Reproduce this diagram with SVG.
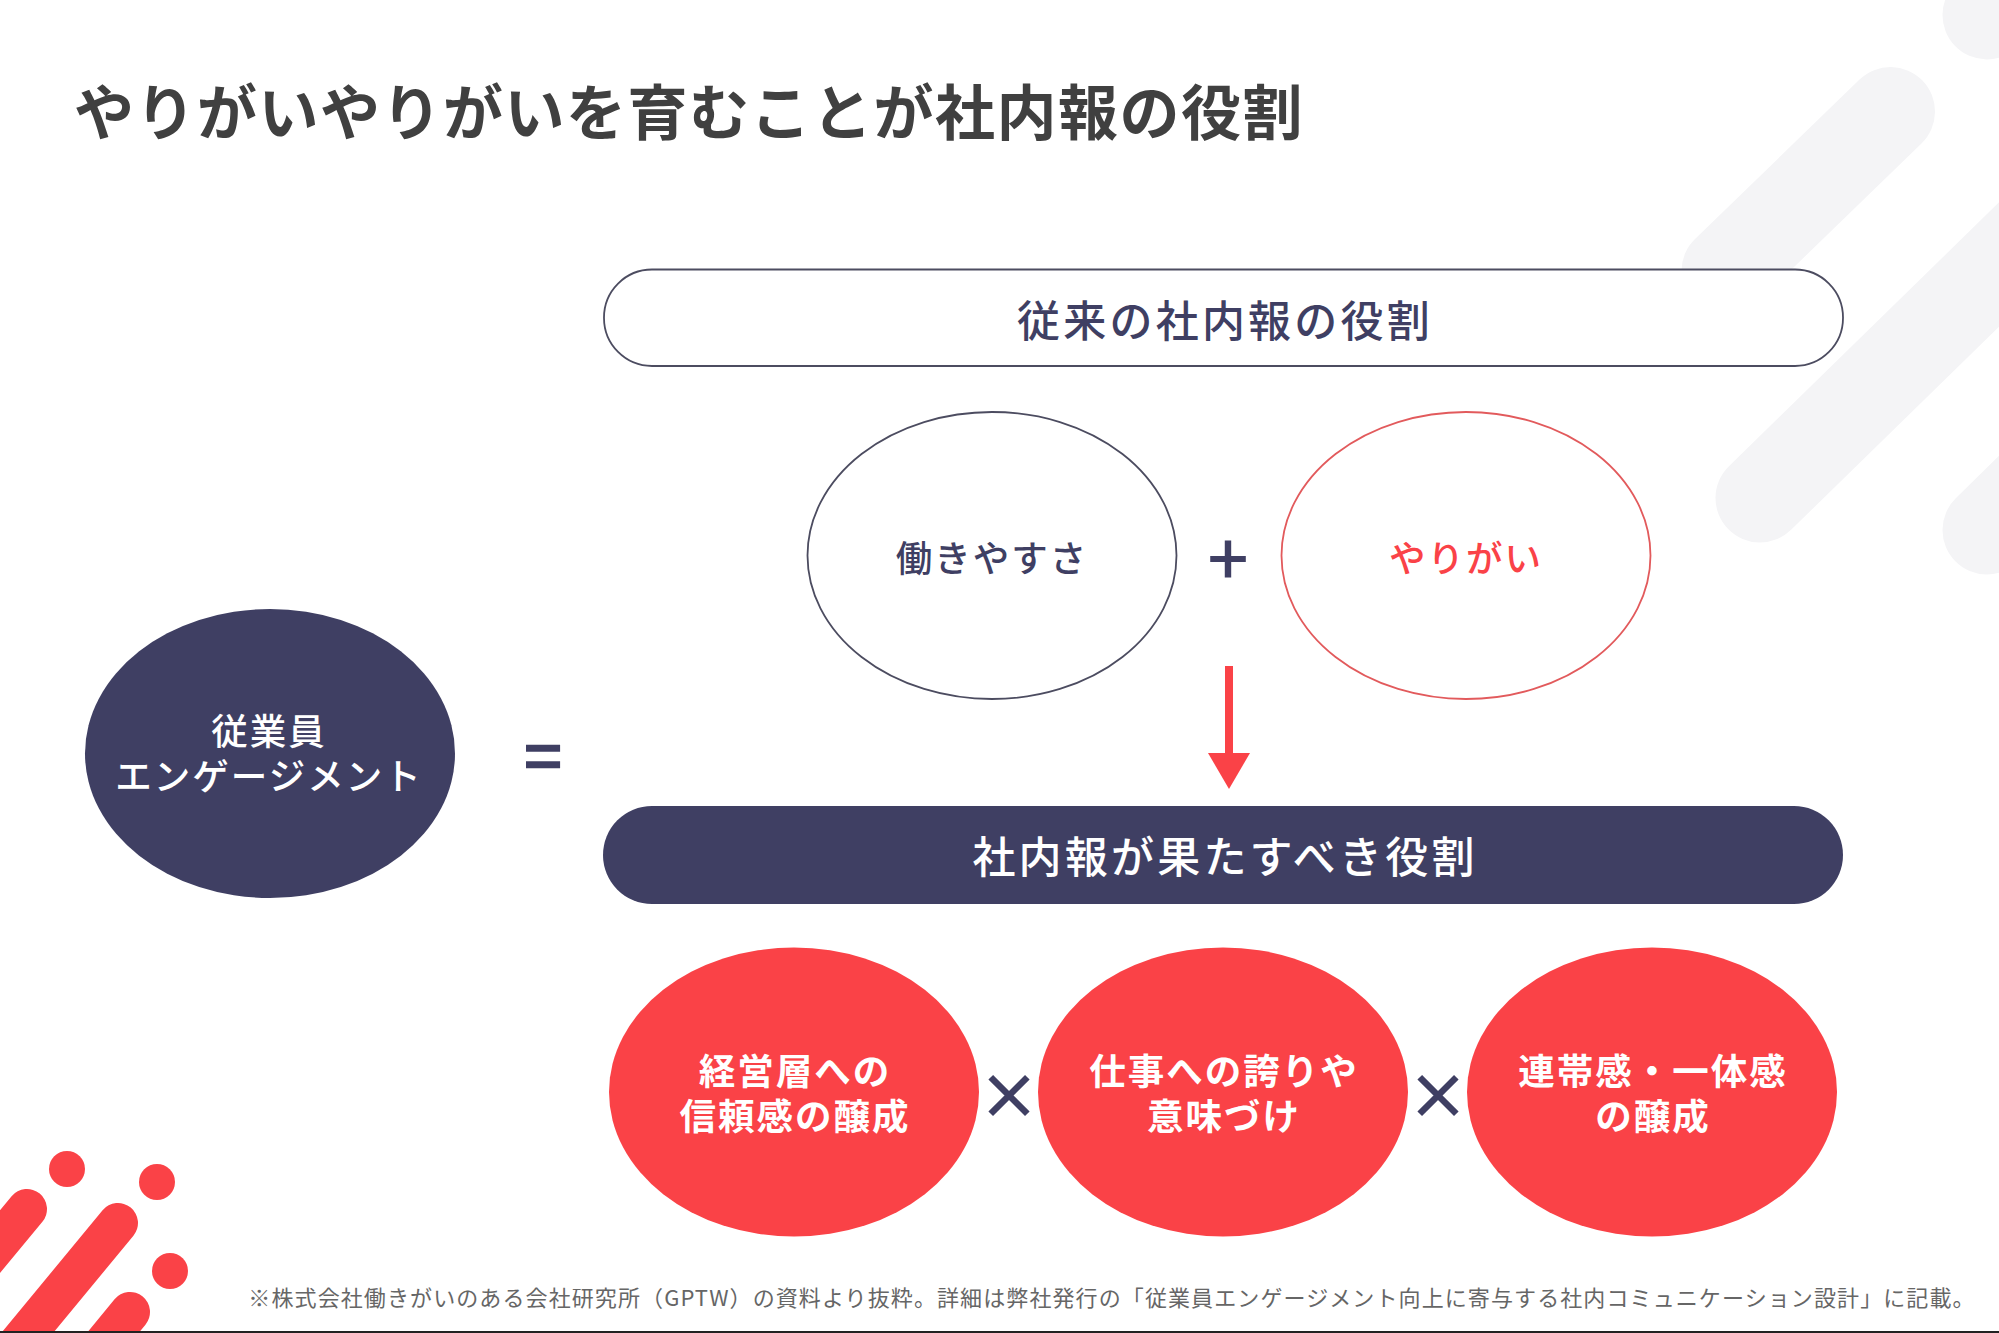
<svg xmlns="http://www.w3.org/2000/svg" width="1999" height="1333" viewBox="0 0 1999 1333">
<style>
text{font-family:"Noto Sans CJK JP","Noto Sans",sans-serif;text-anchor:middle}
.bg{stroke:#f4f4f6;stroke-width:89;stroke-linecap:round;fill:none}
.rb{stroke:#fa4247;stroke-width:40;stroke-linecap:round;fill:none}
.navy{fill:#3f3f63}.red{fill:#fa4247}
.m{font-size:36.500px;letter-spacing:2px;font-weight:500}
.l{font-size:43px;letter-spacing:3.200px;font-weight:500}
.w{fill:#fff}
.b{font-weight:700}
.op{fill:#3f3f63;font-weight:500}
.th{stroke:#3f3f63;stroke-width:1.500}
.ol{fill:#fff;stroke:#4c4c60;stroke-width:1.800}
.or{fill:#fff;stroke:#e25a5c;stroke-width:1.800}
</style>
<defs><marker id="ah" markerUnits="userSpaceOnUse" markerWidth="36" markerHeight="42" refX="0" refY="21" orient="auto"><path d="M0 0L36 21L0 42Z" fill="#fa4247"/></marker></defs>
<rect width="1999" height="1333" fill="#fff"/>
<g id="background">
<line class="bg" x1="1890.500" y1="111.500" x2="1726" y2="271"/>
<line class="bg" x1="1760" y1="498" x2="2060" y2="205"/>
<line class="bg" x1="1987" y1="530" x2="2060" y2="458"/>
<line class="bg" x1="1987" y1="15" x2="2060" y2="-56"/>
<line class="rb" x1="27" y1="1209" x2="-50" y2="1302"/>
<line class="rb" x1="118" y1="1223" x2="-10" y2="1378"/>
<line class="rb" x1="130" y1="1312" x2="70" y2="1385"/>
<circle class="red" cx="67" cy="1169" r="18"/>
<circle class="red" cx="157" cy="1182" r="18"/>
<circle class="red" cx="170" cy="1271" r="18"/>
<rect x="0" y="1331" width="1999" height="2" fill="#222"/>
</g>
<text id="title" x="689" y="135" font-size="60" font-weight="700" letter-spacing="1.500" fill="#404040">やりがいやりがいを育むことが社内報の役割</text>
<g id="n-conventional"><rect class="ol" x="604" y="269.500" width="1239" height="96.500" rx="48"/><text class="l" x="1225" y="337" fill="#3f3f63">従来の社内報の役割</text></g>
<g id="n-hataraki"><ellipse class="ol" cx="992" cy="555.500" rx="184.500" ry="143.500"/><text class="m" x="992" y="572" fill="#3f3f63">働きやすさ</text></g>
<g id="n-yarigai"><ellipse class="or" cx="1466" cy="555.500" rx="184.500" ry="143.500"/><text class="m" x="1466" y="572" fill="#fa4247">やりがい</text></g>
<g id="n-engagement"><ellipse class="navy" cx="270" cy="753.500" rx="185" ry="144.500"/><text class="m w" x="269" y="745">従業員</text><text class="m w" x="269" y="790">エンゲージメント</text></g>
<g id="n-role"><rect class="navy" x="603" y="806" width="1240" height="98" rx="49"/><text class="l w" x="1225" y="873">社内報が果たすべき役割</text></g>
<g id="n-trust"><ellipse class="red" cx="794" cy="1092" rx="185" ry="144.500"/><text class="m w b" x="795" y="1085">経営層への</text><text class="m w b" x="795" y="1130">信頼感の醸成</text></g>
<g id="n-pride"><ellipse class="red" cx="1223" cy="1092" rx="185" ry="144.500"/><text class="m w b" x="1224" y="1085">仕事への誇りや</text><text class="m w b" x="1224" y="1130">意味づけ</text></g>
<g id="n-unity"><ellipse class="red" cx="1652" cy="1092" rx="185" ry="144.500"/><text class="m w b" x="1653" y="1085">連帯感・一体感</text><text class="m w b" x="1653" y="1130">の醸成</text></g>
<g id="operators">
<text class="op" x="1228" y="586" font-size="72">+</text>
<text class="op b th" x="543" y="781" font-size="66">=</text>
<text class="op b th" x="1009" y="1118" font-size="60">×</text>
<text class="op b th" x="1438" y="1118" font-size="60">×</text>
</g>
<g id="connectors"><line x1="1229" y1="666" x2="1229" y2="753" stroke="#fa4247" stroke-width="8" marker-end="url(#ah)"/></g>
<text id="footnote" x="1112" y="1306" font-size="22" letter-spacing="1.100" fill="#666">※株式会社働きがいのある会社研究所（GPTW）の資料より抜粋。詳細は弊社発行の「従業員エンゲージメント向上に寄与する社内コミュニケーション設計」に記載。</text>
</svg>
